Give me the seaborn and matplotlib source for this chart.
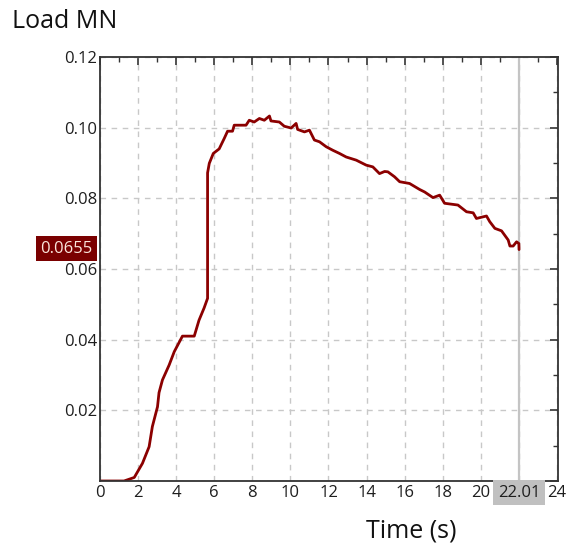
import matplotlib
matplotlib.use("Agg")
import matplotlib.pyplot as plt
import matplotlib.transforms as mtransforms
from matplotlib.ticker import MultipleLocator, FixedLocator
import seaborn as sns
import pandas as pd

# Load history recorded during the test
time_s = [0.0, 1.26, 1.8, 2.23, 2.58, 2.75, 3.02, 3.1, 3.28, 3.63, 3.9, 4.33, 4.95,
          5.2, 5.47, 5.65, 5.65, 5.74, 5.95, 6.26, 6.53, 6.7, 6.96, 7.05, 7.67,
          7.84, 8.1, 8.37, 8.63, 8.9, 8.98, 9.42, 9.68, 10.04, 10.3, 10.38, 10.74,
          11.0, 11.26, 11.53, 11.88, 12.23, 12.58, 12.93, 13.46, 13.98, 14.33,
          14.68, 14.95, 15.12, 15.47, 15.74, 16.26, 16.79, 17.05, 17.49, 17.84,
          18.1, 18.8, 19.25, 19.6, 19.77, 20.3, 20.47, 20.74, 21.09, 21.44, 21.53,
          21.7, 21.88, 22.0, 22.01]
load_mn = [0.0, 0.0, 0.001, 0.005, 0.0097, 0.0154, 0.021, 0.025, 0.0286, 0.0328,
           0.0366, 0.041, 0.041, 0.0455, 0.049, 0.0517, 0.0872, 0.0899, 0.0927,
           0.094, 0.097, 0.099, 0.099, 0.1007, 0.1007, 0.1021, 0.1016, 0.1026,
           0.1021, 0.1033, 0.1019, 0.1016, 0.1004, 0.0999, 0.1012, 0.0995, 0.0988,
           0.0993, 0.0965, 0.096, 0.0946, 0.0936, 0.0927, 0.0917, 0.0908, 0.0894,
           0.0889, 0.0870, 0.0876, 0.0875, 0.0861, 0.0847, 0.0842, 0.0825, 0.0818,
           0.0802, 0.0809, 0.0786, 0.0781, 0.0762, 0.0759, 0.0743, 0.075, 0.0734,
           0.0715, 0.0708, 0.0682, 0.0665, 0.0665, 0.0677, 0.0672, 0.0655]

x_ticks = [0, 2, 4, 6, 8, 10, 12, 14, 16, 18, 20, 24]
y_ticks = [0.02, 0.04, 0.06, 0.08, 0.10, 0.12]
cursor_time = 22.01
cursor_load = 0.0655

sns.set_style("white")
plt.rcParams["font.family"] = ["Open Sans", "DejaVu Sans"]

LINE = "#8b0000"
TEXT = "#1e1e1e"

df = pd.DataFrame({"Time (s)": time_s, "Load MN": load_mn})

fig = plt.figure(figsize=(5.72, 5.53), dpi=100)
ax = fig.add_axes([100 / 572, 72 / 553, 457.7 / 572, 424 / 553])

sns.lineplot(data=df, x="Time (s)", y="Load MN", ax=ax, color=LINE,
             linewidth=2.0, sort=False, estimator=None)

ax.set_xlim(0, 24.04)
ax.set_ylim(0, 0.12)

ax.xaxis.set_major_locator(FixedLocator(list(range(0, 25, 2))))
ax.xaxis.set_minor_locator(MultipleLocator(1))
ax.yaxis.set_major_locator(FixedLocator([0.0] + y_ticks))
ax.yaxis.set_minor_locator(MultipleLocator(0.01))

ax.set_xticklabels([str(v) if v in x_ticks else "" for v in range(0, 25, 2)])
ax.set_yticklabels([""] + [f"{v:.2f}" for v in y_ticks])

ax.tick_params(which="major", direction="in", length=6, width=1.2, color="#333333",
               top=True, right=True, labelsize=12, labelcolor=TEXT, pad=3)
ax.tick_params(which="minor", direction="in", length=3.5, width=1.0, color="#333333",
               top=True, right=True)
ax.tick_params(axis="y", pad=2)

ax.grid(True, which="major", color="#c8c8c8", linestyle=(0, (4, 4)), linewidth=1.0)
ax.set_axisbelow(True)

for sp in ax.spines.values():
    sp.set_color("#333333")
    sp.set_linewidth(1.3)

ax.set_xlabel("")
ax.set_ylabel("")

# Cursor line and its readouts
ax.axvline(cursor_time, color="#c4c4c4", linewidth=1.6, zorder=1.5)

trans_x = mtransforms.blended_transform_factory(ax.transData, ax.transAxes)
ax.text(cursor_time, -0.009, f"{cursor_time:.2f}", transform=trans_x, ha="center",
        va="top", fontsize=12, color=TEXT,
        bbox=dict(boxstyle="square,pad=0.28", facecolor="#c0c0c0", edgecolor="none"),
        clip_on=False)

trans_y = mtransforms.blended_transform_factory(ax.transAxes, ax.transData)
ax.text(-0.016, cursor_load + 0.0003, f"{cursor_load:.4f}", transform=trans_y, ha="right",
        va="center", fontsize=12, color="#fbe6dc",
        bbox=dict(boxstyle="square,pad=0.28", facecolor="#7a0000", edgecolor="none"),
        clip_on=False)

fig.text(12 / 572, 1 - 22 / 553, "Load MN", fontsize=18, color="#111111",
         ha="left", va="center")
fig.text(411 / 572, 1 - 531 / 553, "Time (s)", fontsize=18, color="#111111",
         ha="center", va="center")

fig.savefig("out.png", dpi=100)
